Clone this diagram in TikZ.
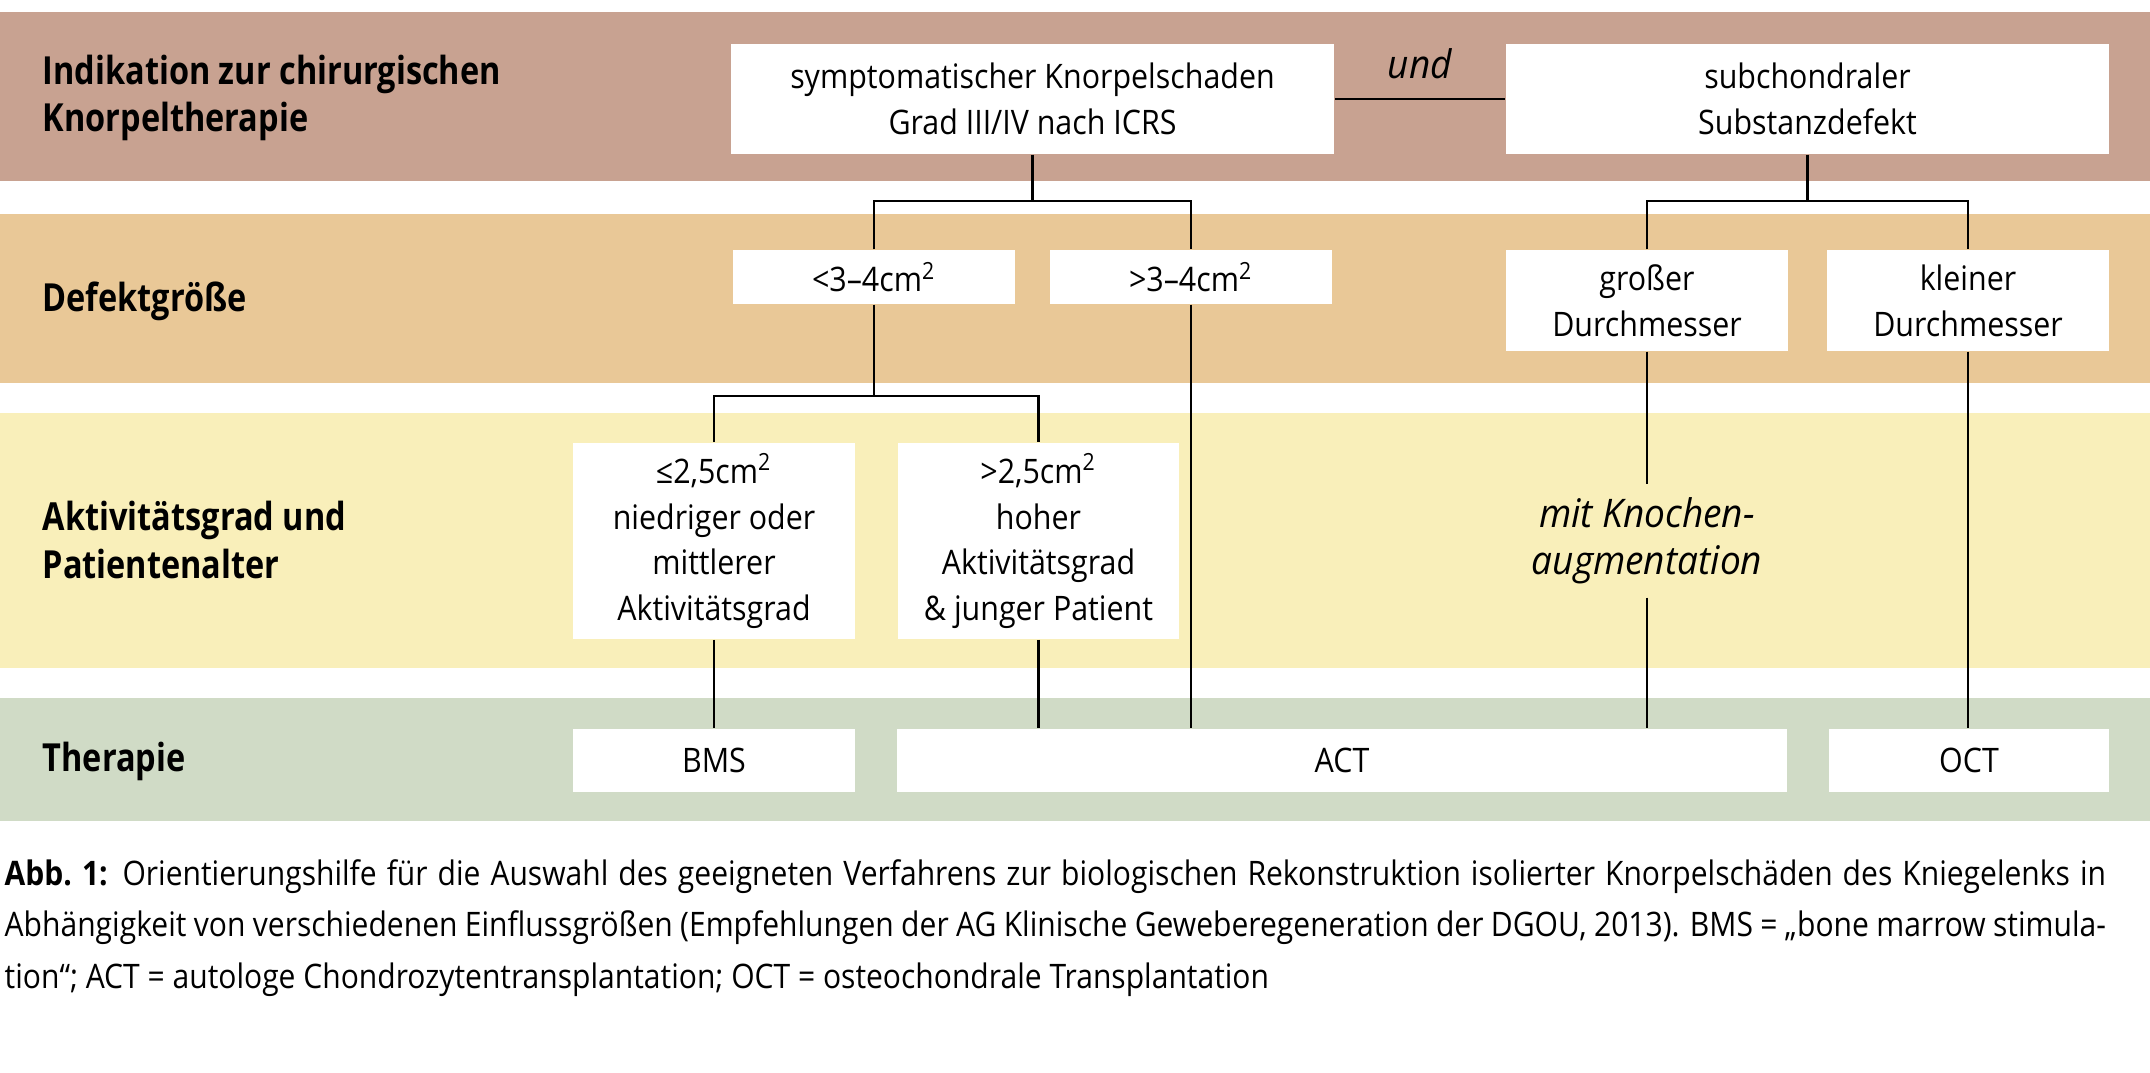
\documentclass[tikz,border=0pt]{standalone}
\usepackage{fontspec}
\setmainfont{Open Sans}[FakeStretch=0.9]
\newfontfamily\labelfont{Open Sans}[FakeStretch=0.84]
\newfontfamily\notefont{Open Sans}[FakeStretch=0.94]
\newfontfamily\capfont{Open Sans}[FakeStretch=0.89]
\usepackage{tikz}
\definecolor{bandA}{RGB}{200,162,145}
\definecolor{bandB}{RGB}{233,200,151}
\definecolor{bandC}{RGB}{249,239,186}
\definecolor{bandD}{RGB}{208,219,198}
\newcommand{\qcm}{cm\textsuperscript{2}}
\tikzset{box node/.style={fill=white,inner sep=0pt,align=center,font=\fontsize{9.6}{13}\selectfont},
	row label/.style={anchor=west,inner sep=0pt,align=left,font=\labelfont\bfseries\fontsize{11}{13.4}\selectfont},
	note/.style={inner sep=0pt,align=center,font=\notefont\itshape\fontsize{11.2}{13.3}\selectfont},
	link/.style={draw,line width=0.6pt},
}
\usetikzlibrary{positioning}

\begin{document}
\begin{tikzpicture}[x=0.01cm,y=-0.01cm]
			\useasboundingbox (0,0) rectangle (2150,1073);
			
			%% bands
			\fill[bandA] (0,12) rectangle (2150,181);
			\fill[bandB] (0,214) rectangle (2150,383);
			\fill[bandC] (0,413) rectangle (2150,668);
			\fill[bandD] (0,698) rectangle (2150,821);
			
			\node[row label] (r1) at (42,98) {Indikation zur chirurgischen\\Knorpeltherapie};
			\node[row label] (r2) at (42,301) {Defektgröße};
			\node[row label] (r3) at (42,540) {Aktivitätsgrad und\\Patientenalter};
			\node[row label] (r4) at (42,761) {Therapie};
			
			%% boxes
			\node[box node,minimum width=6.03cm,minimum height=1.1cm] (s1) at (1032.5,99) {symptomatischer Knorpelschaden\\Grad III/IV nach ICRS};
			\node[box node,minimum width=6.03cm,minimum height=1.1cm] (s2) at (1807.5,99) {subchondraler\\Substanzdefekt};
			\node[box node,minimum width=2.82cm,minimum height=0.54cm] (d1) at (874,277) {<3–4\qcm};
			\node[box node,minimum width=2.82cm,minimum height=0.54cm] (d2) at (1191,277) {>3–4\qcm};
			\node[box node,minimum width=2.82cm,minimum height=1.01cm] (d3) at (1647,300.5) {großer\\Durchmesser};
			\node[box node,minimum width=2.82cm,minimum height=1.01cm] (d4) at (1968,300.5) {kleiner\\Durchmesser};
			\node[box node,minimum width=2.82cm,minimum height=1.96cm] (a1) at (714,541) {≤2,5\qcm\\niedriger oder\\mittlerer\\Aktivitätsgrad};
			\node[box node,minimum width=2.81cm,minimum height=1.96cm] (a2) at (1038.5,541) {>2,5\qcm\\hoher\\Aktivitätsgrad\\\& junger Patient};
			\node[note,minimum height=1.12cm] (m) at (1647,541) {mit Knochen-\\augmentation};
			\node[box node,minimum width=2.82cm,minimum height=0.63cm] (t1) at (714,760.5) {BMS};
			\node[box node,minimum width=8.9cm,minimum height=0.63cm] (t2) at (1342,760.5) {ACT};
			\node[box node,minimum width=2.8cm,minimum height=0.63cm] (t3) at (1969,760.5) {OCT};
			
			%% fork levels
			\coordinate (f1) at (0,201);
			\coordinate (f2) at (0,396);
			
			\path[link]
			(s1.east) -- node[note,above=0.19cm] (und) {und} (s2.west)
			(s1.south) -- (s1.south |- f1)
			(d1.north) |- (f1 -| d2.north) -- (d2.north)
			(s2.south) -- (s2.south |- f1)
			(d3.north) |- (f1 -| d4.north) -- (d4.north)
			(d1.south) -- (d1.south |- f2)
			(a1.north) |- (f2 -| a2.north) -- (a2.north)
			(a1.south) -- (t1.north)
			(a2.south) -- (a2.south |- t2.north)
			(d2.south) -- (d2.south |- t2.north)
			(d3.south) -- (m.north)
			(m.south) -- (m.south |- t2.north)
			(d4.south) -- (d4.south |- t3.north)
			;
			
			%% caption
			\node[anchor=north west,inner sep=0pt,text width=21cm,align=justify,font=\capfont\fontsize{9.6}{14.6}\selectfont] (cap) at (4,859)
			{\textbf{Abb.~1:} Orientierungshilfe für die Auswahl des geeigneten Verfahrens zur biologischen Rekonstruktion isolierter Knorpelschäden des Kniegelenks in\linebreak
			Abhängigkeit von verschiedenen Einflussgrößen (Empfehlungen der AG Klinische Geweberegeneration der DGOU, 2013). BMS = „bone marrow stimula-\linebreak
			tion“; ACT = autologe Chondrozytentransplantation; OCT = osteochondrale Transplantation};
\end{tikzpicture}
\end{document}
